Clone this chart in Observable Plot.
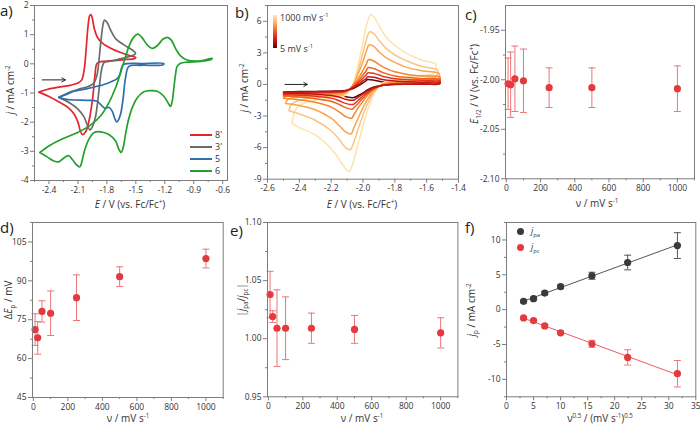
<!DOCTYPE html>
<html><head><meta charset="utf-8">
<script src="https://cdn.jsdelivr.net/npm/d3@7"></script>
<script src="https://cdn.jsdelivr.net/npm/@observablehq/plot@0.6"></script>
<style>
body{margin:0;background:#fff;}
#fig{position:relative;width:700px;height:428px;font-family:"Open Sans",sans-serif;color:#333;overflow:hidden;background:#fff}
#fig svg{position:absolute;overflow:visible}
.tag{position:absolute;font-size:15px;color:#222;line-height:1}
.lab{position:absolute;font-size:10px;white-space:nowrap;color:#333;line-height:1}
.lab sup,.lab sub{font-size:0.62em;line-height:0}
.ylab{transform:translate(-50%,-50%) rotate(-90deg)}
.xlab{transform:translate(-50%,-50%)}
.leg{position:absolute;font-size:9px;color:#333;line-height:1;white-space:nowrap}
.leg sup,.leg sub{font-size:0.65em;line-height:0}
</style></head><body><div id="fig"></div><script>
// ---------- a) CVs of the four compounds, E (V vs Fc/Fc+) vs j (mA cm-2) ----------
const cv8p = [[-2.505,-0.97],[-2.42,-0.88],[-2.30,-0.80],[-2.18,-0.74],[-2.10,-0.66],[-2.06,-0.55],[-2.035,-0.2],[-2.015,0.5],[-1.995,1.3],[-1.978,1.65],[-1.965,1.69],[-1.950,1.55],[-1.93,1.2],[-1.90,0.92],[-1.85,0.72],[-1.75,0.52],[-1.65,0.38],[-1.55,0.27],[-1.50,0.22],
  [-1.52,0.17],[-1.60,0.15],[-1.70,0.12],[-1.80,0.09],[-1.88,0.06],[-1.905,0.0],[-1.925,-0.45],[-1.95,-1.25],[-1.985,-1.95],[-2.02,-2.33],[-2.052,-2.43],[-2.075,-2.30],[-2.10,-2.0],[-2.14,-1.72],[-2.20,-1.50],[-2.30,-1.30],[-2.40,-1.12],[-2.505,-0.97]];
const cv3p = [[-2.298,-1.15],[-2.177,-0.96],[-2.073,-0.85],[-1.987,-0.77],[-1.935,-0.66],[-1.901,-0.37],[-1.880,0.19],[-1.859,0.87],[-1.838,1.38],[-1.825,1.50],[-1.797,1.42],[-1.762,1.16],[-1.711,0.87],[-1.624,0.65],[-1.538,0.48],[-1.503,0.36],
  [-1.52,0.30],[-1.58,0.24],[-1.65,0.18],[-1.72,0.12],[-1.78,0.08],[-1.83,0.04],[-1.855,-0.2],[-1.875,-0.7],[-1.895,-1.3],[-1.92,-1.85],[-1.95,-2.15],[-1.975,-2.27],[-2.00,-2.12],[-2.04,-1.8],[-2.10,-1.55],[-2.18,-1.35],[-2.298,-1.15]];
const cv5 = [[-2.298,-1.15],[-2.211,-1.04],[-2.142,-0.94],[-2.004,-0.85],[-1.901,-0.77],[-1.814,-0.69],[-1.745,-0.60],[-1.693,-0.51],[-1.666,-0.37],[-1.649,-0.15],[-1.631,-0.03],[-1.590,0.01],[-1.452,0.01],[-1.210,0.01],
  [-1.215,-0.03],[-1.452,-0.05],[-1.572,-0.09],[-1.607,-0.49],[-1.631,-1.17],[-1.659,-1.74],[-1.686,-1.96],[-1.700,-1.99],[-1.721,-1.85],[-1.745,-1.62],[-1.780,-1.49],[-1.814,-1.53],[-1.849,-1.45],[-1.901,-1.28],[-2.004,-1.25],[-2.142,-1.24],[-2.246,-1.20],[-2.298,-1.15]];
const cv6 = [[-2.495,-3.04],[-2.384,-2.78],[-2.246,-2.55],[-2.108,-2.36],[-1.970,-2.10],[-1.866,-1.79],[-1.780,-1.34],[-1.711,-0.83],[-1.659,-0.32],[-1.617,0.13],[-1.572,0.59],[-1.527,0.89],[-1.479,1.02],[-1.434,0.89],[-1.382,0.65],[-1.331,0.53],[-1.279,0.62],[-1.217,0.85],[-1.175,0.91],[-1.134,0.82],[-1.089,0.53],[-1.037,0.27],[-0.968,0.13],[-0.830,0.10],[-0.709,0.19],
  [-0.72,0.15],[-0.83,0.08],[-0.968,0.06],[-1.037,0.02],[-1.072,-0.09],[-1.089,-0.37],[-1.106,-0.83],[-1.123,-1.28],[-1.141,-1.46],[-1.165,-1.34],[-1.210,-1.11],[-1.279,-0.94],[-1.348,-0.92],[-1.417,-0.96],[-1.486,-1.17],[-1.538,-1.51],[-1.579,-1.96],[-1.607,-2.42],[-1.631,-2.87],[-1.652,-3.04],[-1.676,-2.93],[-1.711,-2.64],[-1.780,-2.42],[-1.866,-2.33],[-1.935,-2.36],[-1.987,-2.59],[-2.032,-2.98],[-2.066,-3.44],[-2.080,-3.53],[-2.115,-3.46],[-2.160,-3.27],[-2.194,-3.15],[-2.239,-3.21],[-2.298,-3.36],[-2.350,-3.33],[-2.419,-3.19],[-2.495,-3.04]];
const compounds = ["8'", "3'", "5", "6"];
const compoundColors = ["#e3262c", "#6b6b6b", "#2f6fad", "#22a12c"];
const scanArrowA = {x1: -2.47, x2: -2.23, y: -0.55};
const ticksA = {x: [-2.4,-2.1,-1.8,-1.5,-1.2,-0.9,-0.6], xm: [-2.55,-2.25,-1.95,-1.65,-1.35,-1.05,-0.75], y: [-4,-3,-2,-1,0,1,2], ym: [-3.5,-2.5,-1.5,-0.5,0.5,1.5]};

// ---------- b) scan-rate series of one compound (slowest drawn first) ----------
const scanRatesB = [5, 1000, 500, 250, 100, 50, 25, 10];
const rateColors = ["#680909", "#fde3ab", "#fcc47c", "#f9a44f", "#f5862c", "#f0621f", "#e2361b", "#c31418"];
const cvRate1000 = [[-2.445,-3.7],[-2.43,-2.6],[-2.40,-2.0],[-2.30,-1.5],[-2.20,-1.3],[-2.12,-1.1],[-2.08,-0.5],[-2.05,0.6],[-2.02,2.6],[-2.00,4.0],[-1.98,5.5],[-1.952,6.63],[-1.93,6.4],[-1.90,5.6],[-1.86,4.6],[-1.80,3.7],[-1.72,2.9],[-1.63,2.3],[-1.543,1.9],
  [-1.555,1.0],[-1.60,0.9],[-1.70,0.75],[-1.80,0.5],[-1.88,0.1],[-1.93,-0.9],[-1.97,-2.4],[-2.00,-3.9],[-2.03,-5.6],[-2.06,-7.3],[-2.088,-8.27],[-2.11,-8.0],[-2.15,-7.1],[-2.20,-6.1],[-2.30,-4.8],[-2.40,-4.1],[-2.445,-3.7]];
const cvRate500 = [[-2.466,-2.5],[-2.45,-1.9],[-2.40,-1.5],[-2.30,-1.25],[-2.20,-1.1],[-2.12,-0.95],[-2.08,-0.45],[-2.05,0.4],[-2.02,1.9],[-2.00,3.0],[-1.98,4.2],[-1.958,5.0],[-1.93,4.8],[-1.90,4.2],[-1.86,3.5],[-1.80,2.8],[-1.72,2.2],[-1.63,1.7],[-1.53,1.35],
  [-1.545,0.7],[-1.60,0.6],[-1.70,0.5],[-1.80,0.35],[-1.88,0.05],[-1.93,-0.7],[-1.97,-1.8],[-2.00,-2.9],[-2.03,-4.2],[-2.06,-5.6],[-2.08,-6.2],[-2.11,-6.0],[-2.15,-5.2],[-2.20,-4.4],[-2.30,-3.4],[-2.40,-2.8],[-2.466,-2.5]];
const cvRate250 = [[-2.487,-1.8],[-2.47,-1.4],[-2.40,-1.2],[-2.30,-1.05],[-2.20,-0.95],[-2.12,-0.85],[-2.08,-0.4],[-2.05,0.3],[-2.02,1.4],[-2.00,2.2],[-1.98,3.1],[-1.962,3.75],[-1.93,3.6],[-1.90,3.1],[-1.86,2.6],[-1.80,2.1],[-1.72,1.6],[-1.63,1.3],[-1.52,1.0],
  [-1.535,0.45],[-1.60,0.4],[-1.70,0.32],[-1.80,0.22],[-1.88,0.0],[-1.93,-0.55],[-1.97,-1.4],[-2.00,-2.2],[-2.03,-3.2],[-2.06,-4.2],[-2.075,-4.7],[-2.11,-4.5],[-2.15,-3.9],[-2.20,-3.2],[-2.30,-2.4],[-2.40,-2.0],[-2.487,-1.8]];
const cvRate100 = [[-2.50,-1.3],[-2.48,-1.05],[-2.40,-0.95],[-2.30,-0.88],[-2.20,-0.82],[-2.12,-0.75],[-2.08,-0.4],[-2.05,0.1],[-2.02,0.8],[-2.00,1.35],[-1.98,1.9],[-1.966,2.35],[-1.93,2.2],[-1.90,1.9],[-1.86,1.55],[-1.80,1.2],[-1.72,0.95],[-1.63,0.8],[-1.515,0.7],
  [-1.53,0.28],[-1.60,0.25],[-1.70,0.2],[-1.80,0.12],[-1.88,-0.05],[-1.93,-0.45],[-1.97,-1.0],[-2.00,-1.6],[-2.03,-2.2],[-2.06,-2.95],[-2.07,-3.2],[-2.11,-3.05],[-2.15,-2.6],[-2.20,-2.15],[-2.30,-1.7],[-2.40,-1.45],[-2.50,-1.3]];
const cvRate50 = [[-2.50,-1.1],[-2.48,-0.9],[-2.40,-0.85],[-2.30,-0.8],[-2.20,-0.76],[-2.12,-0.7],[-2.08,-0.4],[-2.05,0.0],[-2.02,0.5],[-2.00,0.9],[-1.98,1.3],[-1.968,1.6],[-1.93,1.5],[-1.90,1.3],[-1.86,1.05],[-1.80,0.8],[-1.72,0.65],[-1.63,0.55],[-1.515,0.5],
  [-1.53,0.17],[-1.60,0.15],[-1.70,0.12],[-1.80,0.07],[-1.88,-0.08],[-1.93,-0.4],[-1.97,-0.85],[-2.00,-1.3],[-2.03,-1.8],[-2.06,-2.25],[-2.066,-2.35],[-2.11,-2.2],[-2.15,-1.9],[-2.20,-1.6],[-2.30,-1.35],[-2.40,-1.2],[-2.50,-1.1]];
const cvRate25 = [[-2.50,-0.95],[-2.48,-0.82],[-2.40,-0.8],[-2.30,-0.76],[-2.20,-0.72],[-2.12,-0.66],[-2.08,-0.42],[-2.05,-0.1],[-2.02,0.3],[-2.00,0.6],[-1.98,0.9],[-1.97,1.1],[-1.93,1.05],[-1.90,0.9],[-1.86,0.7],[-1.80,0.55],[-1.72,0.45],[-1.63,0.4],[-1.515,0.35],
  [-1.53,0.1],[-1.60,0.09],[-1.70,0.07],[-1.80,0.04],[-1.88,-0.1],[-1.93,-0.35],[-1.97,-0.75],[-2.00,-1.1],[-2.03,-1.5],[-2.062,-1.9],[-2.11,-1.8],[-2.15,-1.55],[-2.20,-1.3],[-2.30,-1.12],[-2.40,-1.02],[-2.50,-0.95]];
const cvRate10 = [[-2.50,-0.8],[-2.48,-0.74],[-2.40,-0.72],[-2.30,-0.7],[-2.20,-0.67],[-2.12,-0.62],[-2.08,-0.45],[-2.05,-0.2],[-2.02,0.1],[-2.00,0.35],[-1.98,0.55],[-1.972,0.72],[-1.93,0.68],[-1.90,0.55],[-1.86,0.42],[-1.80,0.32],[-1.72,0.26],[-1.63,0.22],[-1.515,0.2],
  [-1.53,0.05],[-1.60,0.04],[-1.70,0.03],[-1.80,0.01],[-1.88,-0.1],[-1.93,-0.3],[-1.97,-0.6],[-2.00,-0.9],[-2.03,-1.2],[-2.06,-1.5],[-2.11,-1.4],[-2.15,-1.2],[-2.20,-1.05],[-2.30,-0.92],[-2.40,-0.85],[-2.50,-0.8]];
const cvRate5 = [[-2.50,-0.72],[-2.40,-0.68],[-2.30,-0.66],[-2.20,-0.64],[-2.12,-0.6],[-2.08,-0.5],[-2.05,-0.3],[-2.02,-0.05],[-2.00,0.15],[-1.98,0.35],[-1.975,0.45],[-1.93,0.4],[-1.90,0.3],[-1.86,0.22],[-1.80,0.15],[-1.72,0.12],[-1.63,0.1],[-1.515,0.1],
  [-1.53,0.02],[-1.60,0.02],[-1.70,0.01],[-1.80,0.0],[-1.88,-0.08],[-1.93,-0.25],[-1.97,-0.5],[-2.00,-0.8],[-2.03,-1.05],[-2.058,-1.25],[-2.11,-1.15],[-2.15,-1.0],[-2.20,-0.88],[-2.30,-0.8],[-2.40,-0.75],[-2.50,-0.72]];
const cvRates = [cvRate5, cvRate1000, cvRate500, cvRate250, cvRate100, cvRate50, cvRate25, cvRate10];
const scanArrowB = {x1: -2.49, x2: -2.35, y: 0};
const ticksB = {x: [-2.6,-2.4,-2.2,-2.0,-1.8,-1.6,-1.4], xm: [-2.5,-2.3,-2.1,-1.9,-1.7,-1.5], y: [-9,-6,-3,0,3,6], ym: [-7.5,-4.5,-1.5,1.5,4.5,7.5]};

// ---------- c)–f) peak analysis vs scan rate ----------
const scanRates = [10, 25, 50, 100, 250, 500, 1000];
const halfWave = [-2.004, -2.005, -1.999, -2.001, -2.008, -2.008, -2.009];
const halfWaveErr = [0.026, 0.033, 0.033, 0.032, 0.020, 0.020, 0.023];
const peakSep = [71.2, 68.0, 78.2, 77.5, 83.5, 91.6, 98.6];
const peakSepErr = [6.1, 6.3, 4.1, 8.6, 8.8, 3.8, 3.6];
const peakRatio = [1.038, 1.019, 1.009, 1.009, 1.009, 1.008, 1.005];
const peakRatioErr = [0.020, 0.005, 0.033, 0.027, 0.013, 0.012, 0.013];
const sqrtRates = [3.16, 5.00, 7.07, 10.0, 15.8, 22.4, 31.6];
const jpa = [1.19, 1.57, 2.38, 3.29, 4.86, 6.76, 9.19];
const jpaErr = [0.20, 0.20, 0.25, 0.25, 0.50, 1.05, 1.85];
const jpc = [-1.19, -1.57, -2.33, -3.33, -4.90, -6.85, -9.19];
const jpcErr = [0.20, 0.20, 0.25, 0.25, 0.50, 1.10, 1.90];
const ticksRate = {x: [0,200,400,600,800,1000], xm: [100,300,500,700,900,1100]};
const ticksC = {y: [-2.10,-2.05,-2.00,-1.95], ym: [-2.075,-2.025,-1.975]};
const ticksD = {y: [45,60,75,90,105], ym: [52.5,67.5,82.5,97.5,112.5]};
const ticksE = {y: [0.95,1.00,1.05,1.10], ym: [0.975,1.025,1.075]};
const ticksF = {x: [0,5,10,15,20,25,30,35], xm: [2.5,7.5,12.5,17.5,22.5,27.5,32.5], y: [-10,-5,0,5,10], ym: [-12.5,-7.5,-2.5,2.5,7.5,12.5]};

const fig = document.getElementById("fig");
const AX = "#7d7d7d", TXT = "#333";
const ptRed = "#e23a3e", barRed = "#ec7477", ptDark = "#3a3a3a";

// horizontal cap drawn as a d3 symbol, used for error-bar ends
const cap = {draw(ctx, size) { const w = Math.sqrt(size) * 0.9; ctx.moveTo(-w, 0); ctx.lineTo(w, 0); }};

function axes(t, fx, fy) {
  return [
    Plot.axisX({ticks: t.xm, tickSize: 2, tickFormat: () => "", stroke: AX, label: null}),
    Plot.axisX({ticks: t.x, tickSize: 4, tickPadding: 2, tickFormat: fx, stroke: AX, fill: TXT, label: null}),
    Plot.axisY({ticks: t.ym, tickSize: 2, tickFormat: () => "", stroke: AX, label: null}),
    Plot.axisY({ticks: t.y, tickSize: 4, tickPadding: 2, tickFormat: fy, stroke: AX, fill: TXT, label: null})
  ];
}

function panel(frame, xDomain, yDomain, ticks, fx, fy, marks) {
  const m = {left: 34, right: 8, top: 6, bottom: 20};
  const svg = Plot.plot({
    width: frame.r - frame.l + m.left + m.right,
    height: frame.b - frame.t + m.top + m.bottom,
    marginLeft: m.left, marginRight: m.right, marginTop: m.top, marginBottom: m.bottom,
    style: {fontFamily: "'Open Sans', sans-serif", fontSize: "8.5px", background: "transparent", overflow: "visible"},
    x: {domain: xDomain, label: null},
    y: {domain: yDomain, label: null},
    marks: [...axes(ticks, fx, fy), ...marks, Plot.frame({stroke: AX, strokeWidth: 1})]
  });
  svg.style.left = (frame.l - m.left) + "px";
  svg.style.top = (frame.t - m.top) + "px";
  fig.appendChild(svg);
}

function html(cls, content, x, y) {
  const d = document.createElement("div");
  d.className = cls; d.innerHTML = content;
  d.style.left = x + "px"; d.style.top = y + "px";
  fig.appendChild(d);
  return d;
}

function errorMarks(xs, ys, es, color, capColor) {
  const rows = xs.map((x, i) => ({x, y: ys[i], lo: ys[i] - es[i], hi: ys[i] + es[i]}));
  return [
    Plot.ruleX(rows, {x: "x", y1: "lo", y2: "hi", stroke: capColor, strokeWidth: 1}),
    Plot.dot(rows, {x: "x", y: "lo", symbol: cap, r: 2.2, stroke: capColor, strokeWidth: 1, fill: "none"}),
    Plot.dot(rows, {x: "x", y: "hi", symbol: cap, r: 2.2, stroke: capColor, strokeWidth: 1, fill: "none"}),
    Plot.dot(rows, {x: "x", y: "y", r: 3.6, fill: color, stroke: "none"})
  ];
}

const f1 = d => d.toFixed(1), f0 = d => d.toFixed(0), f2 = d => d.toFixed(2);

// a)
panel({l: 34, t: 5, r: 227, b: 180}, [-2.55, -0.55], [-4, 2], ticksA, f1, f0, [
  ...[cv8p, cv3p, cv5, cv6].map((c, i) => Plot.line(c, {x: d => d[0], y: d => d[1], stroke: compoundColors[i], strokeWidth: 1.7, curve: "catmull-rom"})),
  Plot.arrow([scanArrowA], {x1: "x1", x2: "x2", y1: "y", y2: "y", stroke: "#222", strokeWidth: 1, headLength: 6})
]);
// b)
panel({l: 267, t: 4.6, r: 458, b: 178.3}, [-2.6, -1.4], [-9, 7.5], ticksB, f1, f0, [
  ...cvRates.map((c, i) => Plot.line(c, {x: d => d[0], y: d => d[1], stroke: rateColors[i], strokeWidth: 1.5, curve: "catmull-rom"})),
  Plot.arrow([scanArrowB], {x1: "x1", x2: "x2", y1: "y", y2: "y", stroke: "#222", strokeWidth: 1, headLength: 6})
]);
// c)
panel({l: 505, t: 5, r: 694, b: 178.3}, [-5, 1100], [-2.10, -1.925], {...ticksRate, ...ticksC}, f0, f2,
  errorMarks(scanRates, halfWave, halfWaveErr, ptRed, barRed));
// d)
panel({l: 32.3, t: 221.7, r: 223, b: 396.7}, [-5, 1100], [45, 112.5], {...ticksRate, ...ticksD}, f0, f0,
  errorMarks(scanRates, peakSep, peakSepErr, ptRed, barRed));
// e)
panel({l: 267.3, t: 221.7, r: 457.7, b: 396}, [-5, 1100], [0.95, 1.10], {...ticksRate, ...ticksE}, f0, f2,
  errorMarks(scanRates, peakRatio, peakRatioErr, ptRed, barRed));
// f)
panel({l: 505.7, t: 221.7, r: 695, b: 396}, [0, 35], [-12.5, 12.5], ticksF, f0, f0, [
  Plot.linearRegressionY(sqrtRates.map((x, i) => ({x, y: jpa[i]})), {x: "x", y: "y", stroke: "#555", strokeWidth: 1, ci: 0}),
  Plot.linearRegressionY(sqrtRates.map((x, i) => ({x, y: jpc[i]})), {x: "x", y: "y", stroke: "#f0585c", strokeWidth: 1, ci: 0}),
  ...errorMarks(sqrtRates, jpa, jpaErr, ptDark, "#555"),
  ...errorMarks(sqrtRates, jpc, jpcErr, ptRed, barRed)
]);

// panel tags
[["a)", 0, 3], ["b)", 235, 5], ["c)", 465, 7], ["d)", 0, 220], ["e)", 230, 223], ["f)", 465, 220]]
  .forEach(([t, x, y]) => html("tag", t, x, y));

// axis titles
const eAxis = "<i>E</i> / V (vs. Fc/Fc<sup>+</sup>)";
const vAxis = "&nu; / mV s<sup>-1</sup>";
html("lab xlab", eAxis, 130, 204);
html("lab xlab", eAxis, 362, 204);
html("lab xlab", vAxis, 597, 203);
html("lab xlab", vAxis, 128, 418);
html("lab xlab", vAxis, 362, 418);
html("lab xlab", "&nu;<sup>0.5</sup> / (mV s<sup>-1</sup>)<sup>0.5</sup>", 600, 418);
html("lab ylab", "<i>j</i> / mA cm<sup>-2</sup>", 10, 90);
html("lab ylab", "<i>j</i> / mA cm<sup>-2</sup>", 244, 88);
html("lab ylab", "<i>E</i><sub>1/2</sub> / V (vs. Fc/Fc<sup>+</sup>)", 474, 84);
html("lab ylab", "&Delta;<i>E</i><sub>p</sub> / mV", 8, 300);
html("lab ylab", "|<i>j</i><sub>pa</sub>/<i>j</i><sub>pc</sub>|", 241, 300);
html("lab ylab", "<i>j</i><sub>p</sub> / mA cm<sup>-2</sup>", 471, 310);

// a) legend
compounds.forEach((name, i) => {
  const y = [135, 147, 159, 170.5][i];
  const ln = html("leg", "", 190, y);
  ln.style.width = "22px"; ln.style.height = "0"; ln.style.borderTop = "2px solid " + compoundColors[i]; ln.style.marginTop = "-1px";
  html("leg", name, 215, y - 5);
});

// b) colour-scale legend
const bar = html("leg", "", 273, 15);
bar.style.width = "3.5px"; bar.style.height = "33px";
bar.style.background = "linear-gradient(to bottom, #fde9bd, #f9b060, #ef5a22, #d4141b, #5a0606)";
html("leg", "1000 mV s<sup>-1</sup>", 280, 13);
html("leg", "5 mV s<sup>-1</sup>", 280, 44);

// f) legend
[["<i>j</i><sub>pa</sub>", ptDark, 231], ["<i>j</i><sub>pc</sub>", ptRed, 247]].forEach(([t, c, y]) => {
  const dot = html("leg", "", 516.5, y - 3.5);
  dot.style.width = "7px"; dot.style.height = "7px"; dot.style.borderRadius = "50%"; dot.style.background = c;
  html("leg", t, 531, y - 5);
});
</script></body></html>
